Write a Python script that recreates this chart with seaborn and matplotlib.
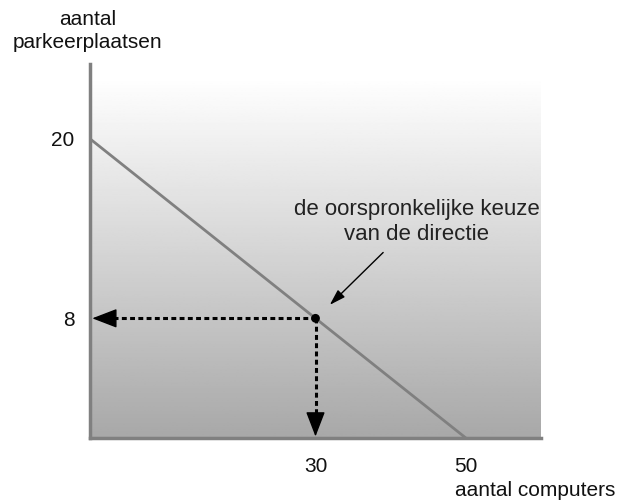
import numpy as np
import pandas as pd
import seaborn as sns
import matplotlib.pyplot as plt

# budget line: parking spots vs computers
computers = [0, 50]
parkeerplaatsen = [20, 0]
keuze_x = [30]
keuze_y = [8]
xticks = [30, 50]
yticks = [8, 20]

sns.set_theme(style='white')
plt.rcParams['font.family'] = ['Liberation Sans', 'DejaVu Sans']

fig = plt.figure(figsize=(6.28, 5.01), dpi=100)
ax = fig.add_axes([90 / 628, 63 / 501, 451 / 628, 374 / 501])
ax.set_xlim(0, 60)
ax.set_ylim(0, 25)

# grey gradient background, white on top
grad = np.linspace(168, 258, 256).clip(0, 255).reshape(-1, 1) / 255
ax.imshow(grad, cmap='gray', vmin=0, vmax=1, origin='lower', aspect='auto',
          extent=[0, 60, 0, 25], zorder=0)

df = pd.DataFrame({'x': computers, 'y': parkeerplaatsen})
sns.lineplot(data=df, x='x', y='y', ax=ax, color='#808080', linewidth=2, zorder=2)

# dashed guide lines from the chosen point to both axes
x0, y0 = keuze_x[0], keuze_y[0]
dash = dict(color='black', linestyle=(0, (1.6, 1.1)), linewidth=2.2, zorder=3)
ax.plot([x0, 2.0], [y0, y0], **dash)
ax.plot([x0, x0], [y0, 1.2], **dash)
head = dict(arrowstyle='-|>,head_length=1.3,head_width=0.5', color='black',
            linewidth=1, shrinkA=0, shrinkB=0)
ax.annotate('', xy=(0.3, y0), xytext=(3.0, y0), arrowprops=head, zorder=3)
ax.annotate('', xy=(x0, 0.1), xytext=(x0, 1.6), arrowprops=head, zorder=3)

sns.scatterplot(x=keuze_x, y=keuze_y, ax=ax, color='black', s=40, zorder=4, edgecolor='none')

ax.text(43.5, 14.45, 'de oorspronkelijke keuze\nvan de directie', ha='center', va='center',
        fontsize=16, color='#222222', linespacing=1.25)
ax.annotate('', xy=(31.9, 8.9), xytext=(39.0, 12.4),
            arrowprops=dict(arrowstyle='-|>,head_length=0.8,head_width=0.25',
                            color='black', linewidth=1, shrinkA=0, shrinkB=0))

for side in ['top', 'right']:
    ax.spines[side].set_visible(False)
for side in ['left', 'bottom']:
    ax.spines[side].set_color('#808080')
    ax.spines[side].set_linewidth(2.5)

ax.set_xticks(xticks)
ax.set_yticks(yticks)
ax.tick_params(length=0, labelsize=15, colors='#111111')
ax.tick_params(axis='x', pad=14)
ax.tick_params(axis='y', pad=11)
ax.set_xlabel('')
ax.set_ylabel('')

fig.text(88 / 628, 1 - 31 / 501, 'aantal\nparkeerplaatsen', ha='center', va='center',
         fontsize=15, linespacing=1.3, color='#111111')
fig.text(535 / 628, 1 - 491 / 501, 'aantal computers', ha='center', va='center',
         fontsize=15, color='#111111')

fig.savefig('out.png', dpi=100)
